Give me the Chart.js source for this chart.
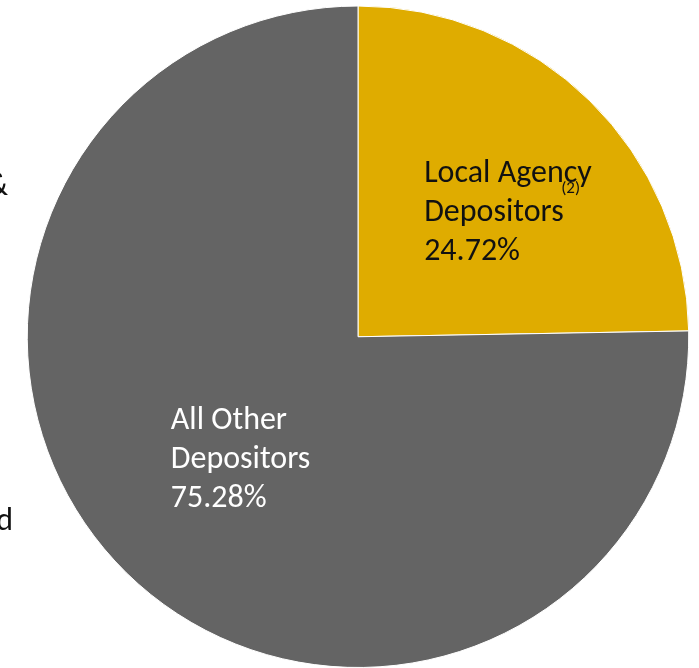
<!DOCTYPE html>
<html>
<head>
<meta charset="utf-8">
<script src="https://cdn.jsdelivr.net/npm/chart.js@4.4.1/dist/chart.umd.min.js"></script>
<style>
  html, body { margin: 0; padding: 0; background: #ffffff; overflow: hidden; }
  #wrap { position: relative; width: 699px; height: 668px; }
</style>
</head>
<body>
<div id="wrap"><canvas id="depositChart" width="699" height="668"></canvas></div>
<script>
// Deposit share by depositor type
const categories = ["Local Agency Depositors", "All Other Depositors"];
const shares = [24.72, 75.28];
const sliceColors = ["#DFAC00", "#646464"];
const labelLines = [["Local Agency", "Depositors"], ["All Other", "Depositors"]];
const labelColors = ["#111111", "#ffffff"];

const FONT = "Carlito, Calibri, Lato, 'Noto Sans', sans-serif";

// Labels inside the slices, placed relative to the pie centre (in radius units)
const labelOffsets = [[0.2, -0.375], [-0.566, 0.372]];

const sliceLabels = {
  id: "sliceLabels",
  afterDatasetsDraw(chart) {
    const ctx = chart.ctx;
    const meta = chart.getDatasetMeta(0);
    ctx.save();
    ctx.textBaseline = "middle";
    ctx.textAlign = "left";
    meta.data.forEach((arc, i) => {
      const r = arc.outerRadius;
      const x = arc.x + labelOffsets[i][0] * r;
      const y = arc.y + labelOffsets[i][1] * r;
      const lh = 38.8;
      ctx.fillStyle = labelColors[i];
      ctx.font = "32px " + FONT;
      const lines = labelLines[i].concat([shares[i].toFixed(2) + "%"]);
      lines.forEach((t, k) => ctx.fillText(t, x, y + (k - 1) * lh));
      if (i === 0) {
        // footnote marker
        ctx.font = "17px " + FONT;
        ctx.fillText("(2)", x + 137, y - 24);
      }
    });
    // cut-off text at the left edge
    ctx.fillStyle = "#111111";
    ctx.font = "32px " + FONT;
    ctx.textAlign = "right";
    ctx.fillText("&", 8, 187);
    ctx.fillText("d", 13, 522);
    ctx.restore();
  }
};

new Chart(document.getElementById("depositChart"), {
  type: "pie",
  data: {
    labels: categories,
    datasets: [{
      data: shares,
      backgroundColor: sliceColors,
      borderColor: "#ffffff",
      borderWidth: 1
    }]
  },
  options: {
    responsive: false,
    animation: false,
    layout: { padding: { left: 26, right: 9, top: 5.5, bottom: -0.5 } },
    plugins: {
      legend: { display: false },
      tooltip: { enabled: false }
    }
  },
  plugins: [sliceLabels]
});
</script>
</body>
</html>
